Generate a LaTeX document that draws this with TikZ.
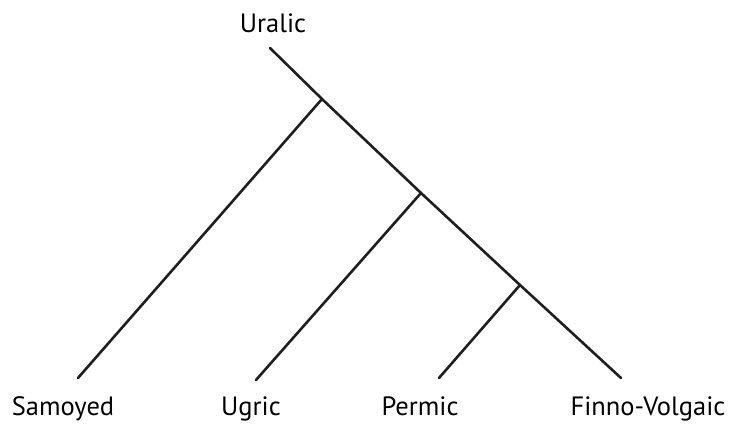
\documentclass[tikz,border=0pt]{standalone}
\usepackage{fontspec}
\setmainfont{PT Sans}
\begin{document}
\begin{tikzpicture}[x=1pt,y=-1pt,
  branch/.style={line width=2.6pt,color=black!88,line cap=round},
  lbl/.style={font=\fontsize{26.5}{30}\selectfont,inner sep=0pt,anchor=base}]
\useasboundingbox (0,0) rectangle (734,424);
\coordinate (root) at (270,48);
\coordinate (j1) at (322,99);
\coordinate (j2) at (421,193);
\coordinate (j3) at (520,285);
\coordinate (sam) at (78,378);
\coordinate (ugr) at (256,380);
\coordinate (per) at (439,378);
\coordinate (fin) at (621,378);
\draw[branch] (root) -- (j1) -- (j2) -- (j3) -- (fin);
\draw[branch] (j1) -- (sam);
\draw[branch] (j2) -- (ugr);
\draw[branch] (j3) -- (per);
\node[lbl] (tsam) at (63,415) {Samoyed};
\node[lbl] (tugr) at (251,415) {Ugric};
\node[lbl] (tper) at (420,415) {Permic};
\node[lbl] (tfin) at (648,415) {Finno-Volgaic};
\node[lbl] (tura) at (273,32) {Uralic};
\end{tikzpicture}
\end{document}
